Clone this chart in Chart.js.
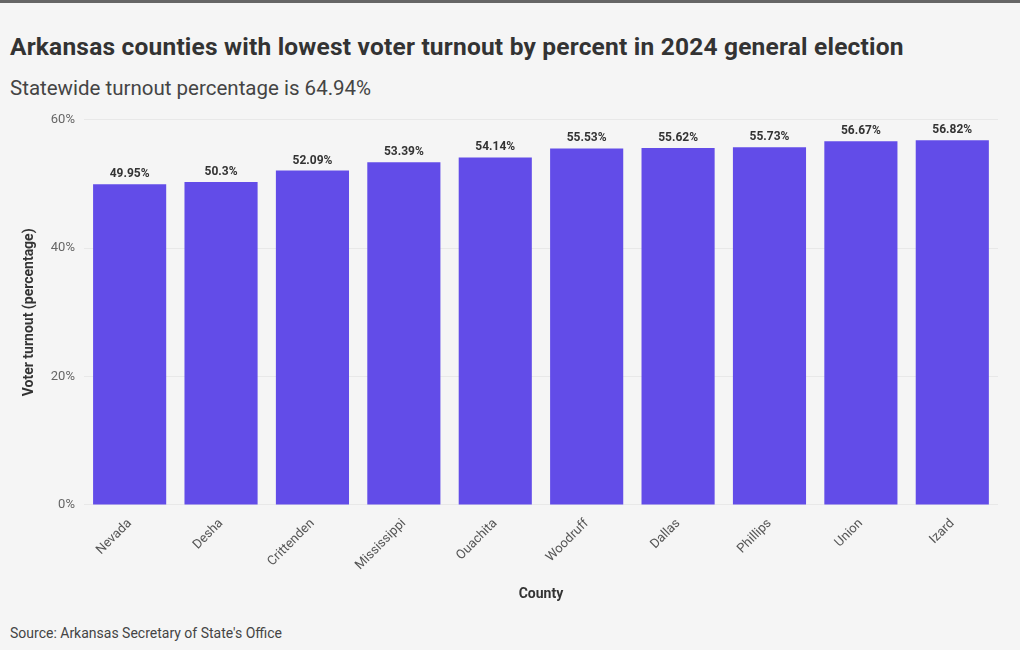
<!DOCTYPE html>
<html>
<head>
<meta charset="utf-8">
<script src="https://cdn.jsdelivr.net/npm/chart.js@4/dist/chart.umd.min.js"></script>
<style>
  body { margin: 0; background: #f5f5f5; font-family: Roboto, "Noto Sans", sans-serif; }
  #wrap { position: relative; width: 1020px; height: 650px; border-top: 3px solid #666; box-sizing: border-box; }
  #title { position: absolute; left: 10px; top: 29px; font-size: 24.5px; font-weight: bold; color: #333; letter-spacing: 0.2px; }
  #sub { position: absolute; left: 10px; top: 73px; font-size: 20.5px; color: #444; }
  #source { position: absolute; left: 10px; top: 622px; font-size: 14px; color: #444; }
  #box { position: absolute; left: 0; top: 100px; width: 1020px; height: 504px; }
</style>
</head>
<body>
<div id="wrap">
  <div id="title">Arkansas counties with lowest voter turnout by percent in 2024 general election</div>
  <div id="sub">Statewide turnout percentage is 64.94%</div>
  <div id="box"><canvas id="myChart"></canvas></div>
  <div id="source">Source: Arkansas Secretary of State's Office</div>
</div>
<script>
const counties = ['Nevada', 'Desha', 'Crittenden', 'Mississippi', 'Ouachita', 'Woodruff', 'Dallas', 'Phillips', 'Union', 'Izard'];
const turnout = [49.95, 50.3, 52.09, 53.39, 54.14, 55.53, 55.62, 55.73, 56.67, 56.82];
const yTicks = [0, 20, 40, 60];

// labels above each bar
const barLabels = {
    id: 'barLabels',
    afterDatasetsDraw(chart) {
        const c = chart.ctx;
        c.save();
        c.font = 'bold 12px Roboto, sans-serif';
        c.fillStyle = '#333';
        c.textAlign = 'center';
        c.textBaseline = 'bottom';
        chart.getDatasetMeta(0).data.forEach(function(bar, i) {
            c.fillText(turnout[i] + '%', bar.x, bar.y - 4);
        });
        c.restore();
    }
};

const ctx = document.getElementById('myChart').getContext('2d');
const myChart = new Chart(ctx, {
    type: 'bar',
    data: {
        labels: counties,
        datasets: [{
            data: turnout,
            backgroundColor: '#624ce8',
            barPercentage: 0.8,
            categoryPercentage: 1.0
        }]
    },
    options: {
        responsive: true,
        maintainAspectRatio: false,
        animation: false,
        layout: { padding: { left: 17, right: 22, top: 16, bottom: 0 } },
        plugins: { legend: { display: false }, tooltip: { enabled: false } },
        scales: {
            x: {
                grid: { display: false },
                border: { display: false },
                ticks: { color: '#555', font: { size: 13, family: 'Roboto' }, maxRotation: 45, minRotation: 45 },
                title: { display: true, text: 'County', color: '#333', padding: { top: 10, bottom: 4 }, font: { size: 14, weight: 'bold', family: 'Roboto' } }
            },
            y: {
                min: 0,
                max: 60,
                afterBuildTicks(axis) { axis.ticks = yTicks.map(v => ({ value: v })); },
                grid: { color: '#e8e8e8', drawTicks: false },
                border: { display: false },
                ticks: { color: '#666', padding: 9, font: { size: 13, family: 'Roboto' }, callback: v => v + '%' },
                title: { display: true, text: 'Voter turnout (percentage)', color: '#333', font: { size: 14, weight: 'bold', family: 'Roboto' } }
            }
        }
    },
    plugins: [barLabels]
});
</script>
</body>
</html>
